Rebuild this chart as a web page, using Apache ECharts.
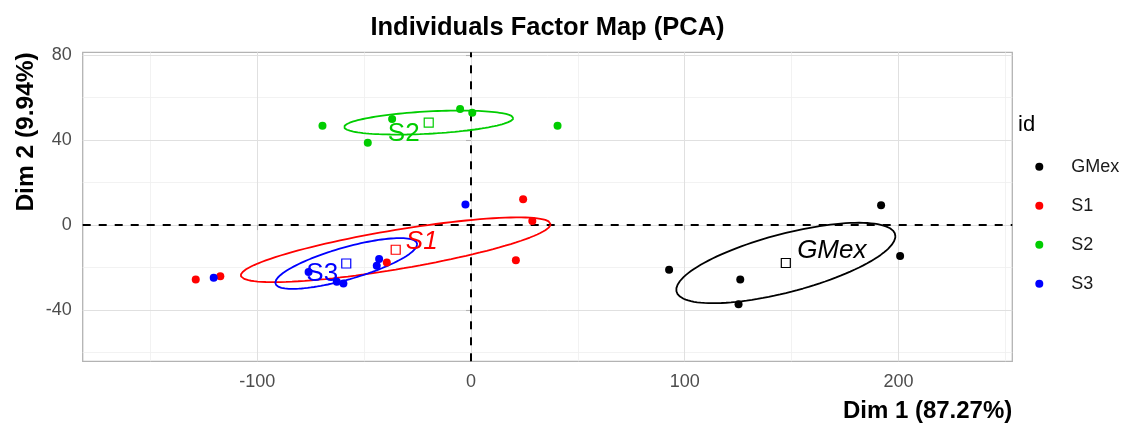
<!DOCTYPE html>
<html>
<head>
<meta charset="utf-8">
<script src="https://cdn.jsdelivr.net/npm/echarts@6/dist/echarts.min.js"></script>
<style>
  html, body { margin: 0; padding: 0; background: #ffffff; }
  #chart { width: 1136px; height: 423px; }
</style>
</head>
<body>
<div id="chart"></div>
<script>
// Individual coordinates on the first two principal dimensions, by group
const groups = ['GMex', 'S1', 'S2', 'S3'];
const groupColors = ['#000000', '#FF0000', '#00CD00', '#0000FF'];

const gmexX = [92.7, 126.0, 125.2, 191.9, 200.8];
const gmexY = [-21.0, -25.6, -37.3, 9.3, -14.6];

const s1X = [-128.8, -117.3, -39.4, 24.4, 28.7, 21.0];
const s1Y = [-25.6, -24.1, -17.6, 12.2, 1.9, -16.5];

const s2X = [-69.5, -48.3, -36.9, -5.1, 0.6, 40.5];
const s2Y = [46.7, 38.7, 49.9, 54.6, 52.8, 46.7];

const s3X = [-2.6, -120.4, -76.0, -62.8, -59.7, -43.0, -44.1];
const s3Y = [9.7, -24.8, -22.1, -26.7, -27.5, -16.0, -19.1];

// Axis ticks and grid lines
const xTicks = [-100, 0, 100, 200];
const yTicks = [-40, 0, 40, 80];
const xMinorGrid = [-150, -50, 50, 150, 250];
const yMinorGrid = [-60, -20, 20, 60];

const xRange = [-181.7, 253.3];
const yRange = [-64.1, 81.3];

// Confidence level of the ellipses around each group mean
const ellipseLevel = 0.95;

const groupX = [gmexX, s1X, s2X, s3X];
const groupY = [gmexY, s1Y, s2Y, s3Y];

// Label placement (pixel offsets from the group mean) and style
const meanLabelOffsets = [[46, -12], [26, -8], [-25, 11], [-24, 10]];
const meanLabelItalic = [true, true, false, false];

const FONT = "'Liberation Sans', Arial, sans-serif";

function mean(a) { return a.reduce((s, v) => s + v, 0) / a.length; }

// Confidence ellipse of the group mean: covariance / n, chi-square (2 df) radius
function confidenceEllipse(xs, ys, level, steps) {
  const n = xs.length;
  const mx = mean(xs), my = mean(ys);
  let sxx = 0, syy = 0, sxy = 0;
  for (let i = 0; i < n; i++) {
    const dx = xs[i] - mx, dy = ys[i] - my;
    sxx += dx * dx; syy += dy * dy; sxy += dx * dy;
  }
  sxx /= (n - 1); syy /= (n - 1); sxy /= (n - 1);
  const a = sxx / n, b = sxy / n, d = syy / n;
  const r = Math.sqrt(-2 * Math.log(1 - level));
  const l11 = Math.sqrt(a);
  const l21 = b / l11;
  const l22 = Math.sqrt(Math.max(d - l21 * l21, 0));
  const pts = [];
  for (let k = 0; k <= steps; k++) {
    const t = 2 * Math.PI * k / steps;
    const u = Math.cos(t), v = Math.sin(t);
    pts.push([mx + r * l11 * u, my + r * (l21 * u + l22 * v)]);
  }
  return pts;
}

const series = [];

// Grid lines (major at ticks, minor between them)
const gridLines = [];
xMinorGrid.forEach(v => gridLines.push({ xAxis: v, lineStyle: { color: '#efefef', width: 0.8 } }));
yMinorGrid.forEach(v => gridLines.push({ yAxis: v, lineStyle: { color: '#efefef', width: 0.8 } }));
xTicks.forEach(v => gridLines.push({ xAxis: v, lineStyle: { color: '#e0e0e0', width: 1 } }));
yTicks.forEach(v => gridLines.push({ yAxis: v, lineStyle: { color: '#e0e0e0', width: 1 } }));
series.push({
  name: 'grid', type: 'scatter', data: [], z: 0, silent: true,
  markLine: {
    z: 0, silent: true, symbol: 'none', label: { show: false },
    lineStyle: { type: 'solid' }, animation: false,
    data: gridLines
  }
});

// Dashed reference lines through the origin
series.push({
  name: 'origin', type: 'scatter', data: [], z: 1, silent: true,
  markLine: {
    z: 1, silent: true, symbol: 'none', label: { show: false }, animation: false,
    lineStyle: { color: '#000000', width: 2, type: [8, 8] },
    data: [{ xAxis: 0 }, { yAxis: 0 }]
  }
});

// Ellipses
groups.forEach((g, i) => {
  series.push({
    name: g + ' ellipse', type: 'line', z: 2, silent: true,
    data: confidenceEllipse(groupX[i], groupY[i], ellipseLevel, 120),
    showSymbol: false, symbol: 'none', smooth: false,
    lineStyle: { color: groupColors[i], width: 1.8 },
    itemStyle: { color: groupColors[i] }
  });
});

// Individuals
groups.forEach((g, i) => {
  series.push({
    name: g, type: 'scatter', z: 3,
    data: groupX[i].map((x, k) => [x, groupY[i][k]]),
    symbol: 'circle', symbolSize: 8,
    itemStyle: { color: groupColors[i], opacity: 1 }
  });
});

// Group means with their names
groups.forEach((g, i) => {
  series.push({
    name: g + ' mean', type: 'scatter', z: 4,
    data: [[mean(groupX[i]), mean(groupY[i])]],
    symbol: 'rect', symbolSize: 9,
    itemStyle: { color: '#ffffff', borderColor: groupColors[i], borderWidth: 1.2, opacity: 1 },
    label: {
      show: true, position: 'inside', formatter: g,
      offset: meanLabelOffsets[i],
      color: groupColors[i], fontSize: 26, fontFamily: FONT,
      fontStyle: meanLabelItalic[i] ? 'italic' : 'normal'
    }
  });
});

const chart = echarts.init(document.getElementById('chart'), null, { renderer: 'canvas' });
chart.setOption({
  animation: false,
  backgroundColor: '#ffffff',
  textStyle: { fontFamily: FONT },
  grid: {
    left: 82.7, right: 123.7, top: 52.3, bottom: 61.7,
    show: true, borderColor: '#b3b3b3', borderWidth: 1.3, backgroundColor: 'transparent'
  },
  xAxis: {
    type: 'value', min: xRange[0], max: xRange[1],
    axisLine: { show: false },
    axisTick: { show: true, length: 5, lineStyle: { color: '#b3b3b3', width: 1.1 }, customValues: xTicks },
    axisLabel: { customValues: xTicks, fontSize: 18, color: '#4d4d4d', margin: 12, fontFamily: FONT },
    splitLine: { show: false }
  },
  yAxis: {
    type: 'value', min: yRange[0], max: yRange[1],
    axisLine: { show: false },
    axisTick: { show: true, length: 5, lineStyle: { color: '#b3b3b3', width: 1.1 }, customValues: yTicks },
    axisLabel: { customValues: yTicks, fontSize: 18, color: '#4d4d4d', margin: 11, fontFamily: FONT },
    splitLine: { show: false }
  },
  legend: {
    data: groups,
    orient: 'vertical',
    left: 1035.3, top: 157.7,
    padding: 0,
    icon: 'circle', itemWidth: 8, itemHeight: 8, itemGap: 21,
    textStyle: { fontSize: 18, color: '#1a1a1a', fontFamily: FONT, lineHeight: 18, padding: [0, 0, 0, 23] },
    selectedMode: false
  },
  graphic: [
    {
      type: 'text', x: 547.5, y: 28,
      style: { text: 'Individuals Factor Map (PCA)', font: 'bold 25.5px ' + FONT, fill: '#000000', align: 'center', verticalAlign: 'middle' }
    },
    {
      type: 'text', x: 1012.3, y: 411,
      style: { text: 'Dim 1 (87.27%)', font: 'bold 24px ' + FONT, fill: '#000000', align: 'right', verticalAlign: 'middle' }
    },
    {
      type: 'text', x: 26, y: 52.3, rotation: Math.PI / 2,
      style: { text: 'Dim 2 (9.94%)', font: 'bold 24.5px ' + FONT, fill: '#000000', align: 'right', verticalAlign: 'middle' }
    },
    {
      type: 'text', x: 1018, y: 125,
      style: { text: 'id', font: '22px ' + FONT, fill: '#000000', align: 'left', verticalAlign: 'middle' }
    }
  ],
  series: series
});
</script>
</body>
</html>
